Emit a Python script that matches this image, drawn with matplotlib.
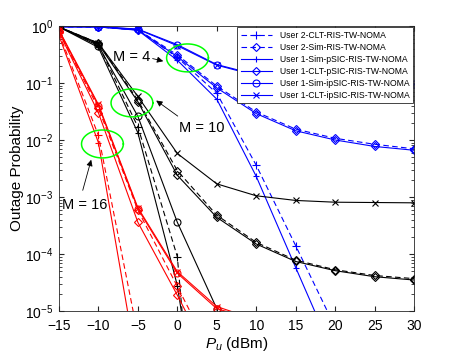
import matplotlib
matplotlib.use('Agg')
import matplotlib.pyplot as plt
import numpy as np

plt.rcParams['font.family'] = ['Liberation Sans', 'DejaVu Sans']
plt.rcParams['mathtext.fontset'] = 'custom'
plt.rcParams['mathtext.rm'] = 'Liberation Sans'
plt.rcParams['mathtext.it'] = 'Liberation Sans:italic'
plt.rcParams['mathtext.default'] = 'regular'

# transmit power (dBm)
pu = [-15, -10, -5, 0, 5, 10, 15, 20, 25, 30]

# M = 4 (blue)
b_u2_clt = [0.97, 0.96, 0.85, 0.28, 0.066, 0.0036, 1.4e-4, 5.2e-6, 2e-7, 8e-9]
b_u2_sim = [0.97, 0.96, 0.86, 0.31, 0.088, 0.031, 0.0155, 0.0107, 0.0084, 0.0070]
b_u1_sim_p = [0.97, 0.96, 0.84, 0.25, 0.052, 0.0023, 5.8e-5, 1.5e-6, 4e-8, 1e-9]
b_u1_clt_p = [0.97, 0.96, 0.85, 0.29, 0.082, 0.029, 0.0145, 0.0100, 0.0077, 0.0066]
b_u1_sim_ip = [0.97, 0.97, 0.88, 0.47, 0.21, 0.14, 0.115, 0.105, 0.100, 0.097]
b_u1_clt_ip = [0.97, 0.97, 0.87, 0.45, 0.205, 0.135, 0.112, 0.103, 0.099, 0.095]

# M = 10 (black)
k_u2_clt = [0.96, 0.47, 0.017, 9e-5, 1e-12, 1e-14, 1e-15, 1e-15, 1e-15, 1e-15]
k_u2_sim = [0.96, 0.50, 0.050, 0.0029, 4.8e-4, 1.6e-4, 7.8e-5, 5.3e-5, 4.2e-5, 3.7e-5]
k_u1_sim_p = [0.96, 0.42, 0.0134, 2.8e-5, 1e-9, 1e-12, 1e-14, 1e-15, 1e-15, 1e-15]
k_u1_clt_p = [0.96, 0.48, 0.047, 0.0024, 4.4e-4, 1.5e-4, 7.4e-5, 5.1e-5, 4.0e-5, 3.5e-5]
k_u1_sim_ip = [0.96, 0.45, 0.026, 3.6e-4, 1.1e-5, 1e-8, 1e-10, 1e-12, 1e-13, 1e-14]
k_u1_clt_ip = [0.96, 0.50, 0.058, 0.0058, 0.0017, 0.00105, 0.00087, 0.00081, 0.00080, 0.00079]

# M = 16 (red)
r_u2_clt = [0.75, 0.012, 3.8e-6, 1e-10, 1e-13, 1e-15, 1e-15, 1e-15, 1e-15, 1e-15]
r_u2_sim = [0.80, 0.036, 5.9e-4, 2.7e-5, 1.2e-6, 1e-8, 1e-10, 1e-12, 1e-13, 1e-14]
r_u1_sim_p = [0.68, 0.009, 9e-7, 1e-11, 1e-14, 1e-15, 1e-15, 1e-15, 1e-15, 1e-15]
r_u1_clt_p = [0.78, 0.030, 3.6e-4, 1.9e-5, 8.5e-7, 1e-8, 1e-10, 1e-12, 1e-13, 1e-14]
r_u1_sim_ip = [0.83, 0.040, 6.2e-4, 4.6e-5, 1.1e-5, 7e-6, 6e-6, 5.5e-6, 5.2e-6, 5e-6]
r_u1_clt_ip = [0.85, 0.042, 6.5e-4, 4.9e-5, 1.2e-5, 7e-6, 6e-6, 5.5e-6, 5.2e-6, 5e-6]

labels = ['User 2-CLT-RIS-TW-NOMA', 'User 2-Sim-RIS-TW-NOMA',
          'User 1-Sim-pSIC-RIS-TW-NOMA', 'User 1-CLT-pSIC-RIS-TW-NOMA',
          'User 1-Sim-ipSIC-RIS-TW-NOMA', 'User 1-CLT-ipSIC-RIS-TW-NOMA']

groups = [
    ('#0000ff', [b_u2_clt, b_u2_sim, b_u1_sim_p, b_u1_clt_p, b_u1_sim_ip, b_u1_clt_ip]),
    ('k', [k_u2_clt, k_u2_sim, k_u1_sim_p, k_u1_clt_p, k_u1_sim_ip, k_u1_clt_ip]),
    ('#ff0000', [r_u2_clt, r_u2_sim, r_u1_sim_p, r_u1_clt_p, r_u1_sim_ip, r_u1_clt_ip]),
]
styles = [((0, (5, 3)), '+'), ((0, (5, 3)), 'D'), ('-', '+'),
          ('-', 'D'), ('-', 'o'), ('-', 'x')]
msizes = [6, 4.5, 5, 4.5, 5, 4]

fig = plt.figure(figsize=(4.57, 3.6), dpi=100)
ax = fig.add_axes([0.129, 0.136, 0.777, 0.792])

handles = []
for color, curves in groups:
    for i, y in enumerate(curves):
        ls, mk = styles[i]
        h, = ax.plot(pu, y, color=color, linestyle=ls, marker=mk,
                     markersize=msizes[i], markerfacecolor='none',
                     markeredgewidth=0.8, linewidth=0.8)
        if color == '#0000ff':
            handles.append(h)

ax.set_yscale('log')
ax.set_xlim(-15, 30)
ax.set_ylim(1e-5, 1)
ax.set_xticks(np.arange(-15, 31, 5))
ax.tick_params(which='both', direction='in', top=True, right=True,
               labelsize=10, color='0.15')
ax.tick_params(which='major', length=3.5)
ax.tick_params(which='minor', length=2)
ax.tick_params(axis='x', pad=6)
ax.tick_params(axis='y', pad=4)
for s in ax.spines.values():
    s.set_color('0.15')
    s.set_linewidth(0.6)

ax.set_xlabel(r'$\mathit{P_u}$ (dBm)', fontsize=11, labelpad=1)
ax.set_ylabel('Outage Probability', fontsize=11, labelpad=1)

# green ellipses marking each M group
t = np.linspace(0, 2 * np.pi, 200)
for cx, cy in [(1.29, -0.561), (-5.75, -1.35), (-9.49, -2.07)]:
    ax.plot(cx + 2.65 * np.cos(t), 10 ** (cy + 0.245 * np.sin(t)),
            color='#00ff00', linewidth=1.1)

arrow = dict(arrowstyle='-|>', color='k', lw=0.6, mutation_scale=9)
ax.annotate('', xy=(-1.44, 10 ** -0.63), xytext=(-3.47, 10 ** -0.561), arrowprops=arrow)
ax.annotate('', xy=(-2.96, 10 ** -1.28), xytext=(0.34, 10 ** -1.61), arrowprops=arrow)
ax.annotate('', xy=(-10.82, 10 ** -2.30), xytext=(-12.08, 10 ** -2.93), arrowprops=arrow)
ax.text(-5.75, 10 ** -0.544, 'M = 4', fontsize=10.5, ha='center', va='center')
ax.text(3.09, 10 ** -1.79, 'M = 10', fontsize=10.5, ha='center', va='center')
ax.text(-11.7, 10 ** -3.14, 'M = 16', fontsize=10.5, ha='center', va='center')

leg = ax.legend(handles, labels, loc='upper right', bbox_to_anchor=(1, 1),
                fontsize=6.2, handlelength=3.6, handletextpad=0.9,
                labelspacing=0.35, borderpad=0.4, borderaxespad=0.15,
                fancybox=False, framealpha=1)
leg.get_frame().set_edgecolor('0.15')
leg.get_frame().set_linewidth(0.6)

fig.savefig('out.png', dpi=100)
